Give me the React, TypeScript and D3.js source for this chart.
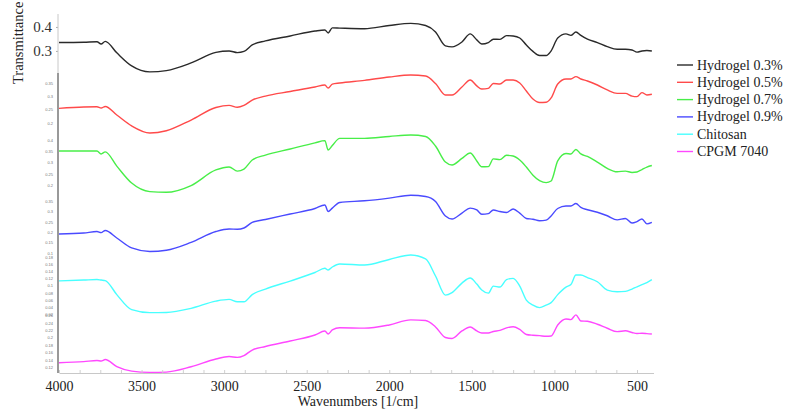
import { useEffect, useRef } from "react";
import * as d3 from "d3";

const wavenumbers = [
  4000, 3850, 3770, 3745, 3720, 3650, 3560, 3450, 3350, 3200, 3050, 2970, 2920,
  2880, 2830, 2750, 2600, 2450, 2390, 2370, 2345, 2300, 2150, 2000, 1870, 1780,
  1720, 1660, 1620, 1560, 1510, 1470, 1440, 1400, 1370, 1330, 1290, 1250, 1210,
  1170, 1130, 1090, 1050, 1020, 980, 930, 900, 870, 840, 800, 740, 680, 620, 570,
  530, 500, 470, 440, 410,
];

const hydrogel03 = [
  0.335, 0.336, 0.338, 0.329, 0.34, 0.292, 0.2375, 0.2125, 0.218, 0.25, 0.294,
  0.3, 0.293, 0.298, 0.325, 0.342, 0.3625, 0.383, 0.3875, 0.375, 0.396, 0.395,
  0.3925, 0.406, 0.415, 0.406, 0.379, 0.321, 0.317, 0.3375, 0.371, 0.346, 0.329,
  0.335, 0.349, 0.348, 0.364, 0.3625, 0.354, 0.325, 0.298, 0.281, 0.281, 0.3,
  0.354, 0.371, 0.365, 0.379, 0.365, 0.349, 0.335, 0.318, 0.307, 0.307, 0.304,
  0.295, 0.3, 0.302, 0.3,
];

const hydrogel05 = [
  0.255, 0.26, 0.261, 0.256, 0.262, 0.23, 0.189, 0.1625, 0.171, 0.211, 0.258,
  0.266, 0.259, 0.266, 0.286, 0.301, 0.318, 0.335, 0.3425, 0.331, 0.346, 0.35,
  0.36, 0.3725, 0.38, 0.376, 0.348, 0.305, 0.305, 0.335, 0.361, 0.339, 0.3275,
  0.33, 0.348, 0.346, 0.361, 0.361, 0.35, 0.32, 0.29, 0.277, 0.278, 0.294, 0.346,
  0.365, 0.365, 0.374, 0.365, 0.3575, 0.3425, 0.324, 0.311, 0.311, 0.301, 0.299,
  0.314, 0.305, 0.308,
];

const hydrogel07 = [
  0.351, 0.351, 0.351, 0.338, 0.347, 0.284, 0.209, 0.171, 0.168, 0.198, 0.267,
  0.28, 0.262, 0.271, 0.311, 0.333, 0.36, 0.387, 0.397, 0.3555, 0.3755, 0.407,
  0.407, 0.4155, 0.422, 0.4155, 0.373, 0.302, 0.289, 0.318, 0.342, 0.307, 0.281,
  0.282, 0.316, 0.313, 0.332, 0.329, 0.311, 0.28, 0.244, 0.22, 0.211, 0.218,
  0.307, 0.34, 0.338, 0.358, 0.338, 0.327, 0.302, 0.274, 0.259, 0.262, 0.256,
  0.258, 0.269, 0.28, 0.287,
];

const hydrogel09 = [
  0.191, 0.196, 0.203, 0.198, 0.208, 0.172, 0.124, 0.107, 0.113, 0.151, 0.203,
  0.215, 0.214, 0.22, 0.247, 0.261, 0.2875, 0.314, 0.331, 0.2995, 0.316, 0.343,
  0.351, 0.364, 0.3775, 0.372, 0.348, 0.278, 0.2635, 0.292, 0.316, 0.307, 0.286,
  0.289, 0.307, 0.2995, 0.295, 0.3115, 0.292, 0.266, 0.2625, 0.255, 0.258, 0.278,
  0.314, 0.326, 0.326, 0.338, 0.319, 0.308, 0.296, 0.279, 0.259, 0.266, 0.244,
  0.251, 0.2635, 0.24, 0.247,
];

const chitosan = [
  0.113, 0.1153, 0.1167, 0.1153, 0.1139, 0.0748, 0.0329, 0.0245, 0.0251, 0.0365,
  0.0567, 0.0614, 0.0547, 0.0547, 0.0748, 0.0902, 0.1125, 0.1363, 0.148, 0.1432,
  0.1516, 0.16, 0.1572, 0.1726, 0.1851, 0.174, 0.1265, 0.0734, 0.0804, 0.1069,
  0.1209, 0.1041, 0.0874, 0.079, 0.0985, 0.0958, 0.1167, 0.12, 0.0985, 0.0594,
  0.0455, 0.0385, 0.0455, 0.0525, 0.0748, 0.0958, 0.1027, 0.1293, 0.1293,
  0.1223, 0.1106, 0.0874, 0.0826, 0.0837, 0.0902, 0.0966, 0.1027, 0.1083,
  0.1167,
];

const cpgm7040 = [
  0.132, 0.135, 0.138, 0.1365, 0.1405, 0.1215, 0.1092, 0.1057, 0.1065, 0.1209,
  0.1419, 0.1487, 0.1465, 0.1514, 0.1664, 0.176, 0.191, 0.2073, 0.218, 0.21,
  0.2209, 0.2269, 0.2258, 0.2345, 0.2482, 0.2468, 0.2291, 0.2005, 0.1978,
  0.2182, 0.2291, 0.2182, 0.2128, 0.2128, 0.2168, 0.2196, 0.2264, 0.2296,
  0.2223, 0.2087, 0.2065, 0.2054, 0.2038, 0.2046, 0.2345, 0.2509, 0.249, 0.2618,
  0.2454, 0.2446, 0.2365, 0.2256, 0.2163, 0.2187, 0.2141, 0.2114, 0.2119,
  0.2111, 0.21,
];

const seriesNames = [
  "Hydrogel 0.3%",
  "Hydrogel 0.5%",
  "Hydrogel 0.7%",
  "Hydrogel 0.9%",
  "Chitosan",
  "CPGM 7040",
];
const seriesValues = [hydrogel03, hydrogel05, hydrogel07, hydrogel09, chitosan, cpgm7040];

const panelTicks = [
  [0.3, 0.4],
  [0.2, 0.25, 0.3, 0.35],
  [0.2, 0.25, 0.3, 0.35, 0.4],
  [0.1, 0.15, 0.2, 0.25, 0.3, 0.35],
  [0.02, 0.04, 0.06, 0.08, 0.1, 0.12, 0.14, 0.16, 0.18],
  [0.12, 0.14, 0.16, 0.18, 0.2, 0.22, 0.24, 0.26],
];
const xTicks = [4000, 3500, 3000, 2500, 2000, 1500, 1000, 500];

const colors = ["#2a2a2a", "#ff4a4a", "#48ee48", "#4a4aff", "#48ffff", "#ff48ff"];
// [value domain], [pixel bottom, pixel top] of each stacked panel
const panelDomains = [
  [0.208, 0.454],
  [0.155, 0.3875],
  [0.156, 0.422],
  [0.09, 0.379],
  [0.018, 0.199],
  [0.104, 0.267],
];
const panelRanges = [
  [73, 14],
  [135, 73],
  [195, 135],
  [255, 195],
  [315, 250],
  [373, 313],
];

const W = 786;
const H = 411;
const serif = "'Liberation Serif', 'Times New Roman', serif";

export default function App() {
  const ref = useRef<SVGSVGElement>(null);

  useEffect(() => {
    const svg = d3.select(ref.current);
    svg.selectAll("*").remove();

    const x = d3.scaleLinear().domain([4000, 400]).range([59, 653.5]);
    const fmt = (d: any) => String(+(+d).toFixed(2));

    seriesValues.forEach((vals, i) => {
      const y = d3.scaleLinear().domain(panelDomains[i]).range(panelRanges[i]);
      const top = i === 0;
      const ax = svg
        .append("g")
        .attr("transform", "translate(58,0)")
        .call(
          d3
            .axisLeft(y)
            .tickValues(panelTicks[i])
            .tickFormat(fmt)
            .tickSize(top ? 2 : 0)
            .tickSizeOuter(0)
            .tickPadding(top ? 4 : 5)
        );
      ax.select(".domain").remove();
      ax.selectAll("line").attr("stroke", "#aaa");
      ax.selectAll("text")
        .attr("font-family", top ? serif : "Arial, sans-serif")
        .attr("font-size", top ? 15 : 4)
        .attr("fill", top ? "#333" : "#777");

      const line = d3
        .line<number>()
        .x((_, j) => x(wavenumbers[j]))
        .y((d) => y(d))
        .curve(d3.curveMonotoneX);

      svg
        .append("path")
        .attr("d", line(vals))
        .attr("fill", "none")
        .attr("stroke", colors[i])
        .attr("stroke-width", 1.4)
        .attr("stroke-linejoin", "round");
    });

    // left axis lines
    svg.append("line").attr("x1", 58).attr("x2", 58).attr("y1", 14).attr("y2", 73)
      .attr("stroke", "#c8c8c8").attr("stroke-width", 1);
    svg.append("line").attr("x1", 58).attr("x2", 58).attr("y1", 73).attr("y2", 373)
      .attr("stroke", "#555").attr("stroke-width", 1.2);

    // bottom axis
    const bx = svg
      .append("g")
      .attr("transform", "translate(0,373)")
      .call(
        d3
          .axisBottom(x)
          .tickValues(d3.range(4000, 399, -125))
          .tickFormat((d: any) => (xTicks.includes(+d) ? String(d) : ""))
          .tickSize(-3)
          .tickSizeOuter(0)
          .tickPadding(8)
      );
    bx.select(".domain").attr("stroke", "#c8c8c8");
    bx.selectAll("line").attr("stroke", "#d0d0d0");
    bx.selectAll("text")
      .attr("font-family", serif)
      .attr("font-size", 14)
      .attr("fill", "#222");

    svg.append("text")
      .attr("x", 358)
      .attr("y", 406)
      .attr("text-anchor", "middle")
      .attr("font-family", serif)
      .attr("font-size", 14)
      .attr("fill", "#222")
      .text("Wavenumbers [1/cm]");

    svg.append("text")
      .attr("transform", "translate(23,84) rotate(-90)")
      .attr("font-family", serif)
      .attr("font-size", 14.5)
      .attr("fill", "#222")
      .text("Transmittance");

    // legend
    const lg = svg.append("g").attr("transform", "translate(677,65)");
    seriesNames.forEach((name, i) => {
      const row = lg.append("g").attr("transform", `translate(0,${i * 17.3})`);
      row.append("line").attr("x1", 0).attr("x2", 16).attr("y1", 0).attr("y2", 0)
        .attr("stroke", colors[i]).attr("stroke-width", 1.4);
      row.append("text")
        .attr("x", 20)
        .attr("y", 4.5)
        .attr("font-family", serif)
        .attr("font-size", 14)
        .attr("fill", "#222")
        .text(name);
    });
  }, []);

  return (
    <svg
      ref={ref}
      width={W}
      height={H}
      style={{ position: "absolute", left: 0, top: 0, background: "#fff" }}
    />
  );
}
